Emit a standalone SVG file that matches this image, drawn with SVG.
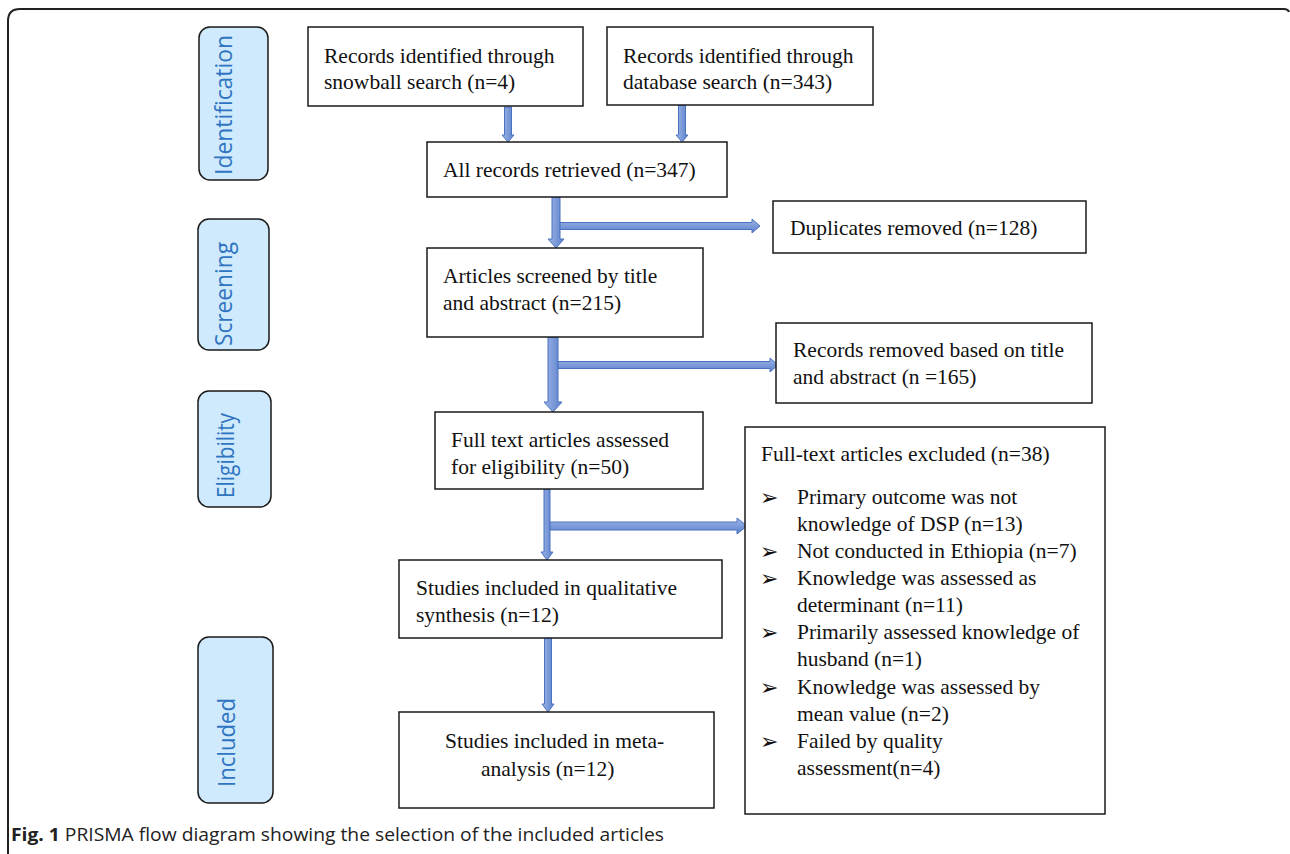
<svg xmlns="http://www.w3.org/2000/svg" width="1290" height="854" viewBox="0 0 1290 854">
<defs>
<linearGradient id="gv" x1="0" y1="0" x2="1" y2="0">
<stop offset="0" stop-color="#9fb6e6"/><stop offset="1" stop-color="#5a80cc"/>
</linearGradient>
<linearGradient id="gh" x1="0" y1="0" x2="0" y2="1">
<stop offset="0" stop-color="#9fb6e6"/><stop offset="1" stop-color="#5a80cc"/>
</linearGradient>
</defs>
<style>
.box{fill:#fff;stroke:#1a1a1a;stroke-width:1.5}
.phase{fill:#cfeafc;stroke:#1a1a1a;stroke-width:1.5}
.pt{font-family:"Open Sans","Noto Sans",sans-serif;font-size:23px;fill:#2f74c0}
.t{font-family:"Liberation Serif","Times New Roman",serif;font-size:21.5px;fill:#111}
.b{font-family:"DejaVu Sans",sans-serif;font-size:22px;fill:#111}
.av{fill:url(#gv);stroke:#4a72c0;stroke-width:1}
.ah{fill:url(#gh);stroke:#4a72c0;stroke-width:1}
.cap{font-family:"Open Sans","Noto Sans",sans-serif;font-size:18.5px;fill:#222}
</style>
<rect width="1290" height="854" fill="#fff"/>
<path d="M8,854 L8,21 Q8,9 20,9 L1284,9 Q1288,9 1289,12" fill="none" stroke="#222" stroke-width="2"/>

<g id="phase-identification"><rect class="phase" x="199" y="27" width="69" height="153" rx="11"/><text class="pt" transform="translate(232,175) rotate(-90)" textLength="140" lengthAdjust="spacingAndGlyphs">Identification</text></g>
<g id="phase-screening"><rect class="phase" x="198" y="219" width="71" height="131" rx="11"/><text class="pt" transform="translate(232,346) rotate(-90)" textLength="104" lengthAdjust="spacingAndGlyphs">Screening</text></g>
<g id="phase-eligibility"><rect class="phase" x="198" y="391" width="73" height="116" rx="11"/><text class="pt" transform="translate(234,498) rotate(-90)" textLength="85" lengthAdjust="spacingAndGlyphs">Eligibility</text></g>
<g id="phase-included"><rect class="phase" x="198" y="637" width="75" height="166" rx="11"/><text class="pt" transform="translate(235,787) rotate(-90)" textLength="89" lengthAdjust="spacingAndGlyphs">Included</text></g>

<g id="connectors">
<polygon class="av" points="504.5,107 511.5,107 511.5,135 514,135 508,142 502,135 504.5,135"/>
<polygon class="av" points="678.5,105 685.5,105 685.5,135 688,135 682,142 676,135 678.5,135"/>
<polygon class="av" points="552,197 560,197 560,239 564,239 556,248 548,239 552,239"/>
<polygon class="ah" points="560,222.5 752,222.5 752,219 760,226 752,233 752,229.5 560,229.5"/>
<polygon class="av" points="548,337 558,337 558,402 562,402 553,412 544,402 548,402"/>
<polygon class="ah" points="558,361.5 770,361.5 770,358 778,365 770,372 770,368.5 558,368.5"/>
<polygon class="av" points="544,489 550,489 550,552 553,552 547,560 541,552 544,552"/>
<polygon class="ah" points="550,522 737,522 737,518 747,526 737,534 737,530 550,530"/>
<polygon class="av" points="544.5,638 551.5,638 551.5,704 554,704 548,712 542,704 544.5,704"/>
</g>

<g id="n-snowball"><rect class="box" x="308" y="27" width="275" height="79"/><text class="t" x="324" y="63">Records identified through</text><text class="t" x="324" y="89">snowball search (n=4)</text></g>
<g id="n-database"><rect class="box" x="607" y="27" width="266" height="78"/><text class="t" x="623" y="63">Records identified through</text><text class="t" x="623" y="89">database search (n=343)</text></g>
<g id="n-all"><rect class="box" x="427" y="142" width="300" height="55"/><text class="t" x="443" y="177">All records retrieved (n=347)</text></g>
<g id="n-duplicates"><rect class="box" x="773" y="201" width="313" height="52"/><text class="t" x="790" y="235">Duplicates removed (n=128)</text></g>
<g id="n-screened"><rect class="box" x="427" y="248" width="276" height="89"/><text class="t" x="443" y="283">Articles screened by title</text><text class="t" x="443" y="310">and abstract (n=215)</text></g>
<g id="n-removed"><rect class="box" x="776" y="323" width="316" height="80"/><text class="t" x="793" y="357">Records removed based on title</text><text class="t" x="793" y="384">and abstract (n =165)</text></g>
<g id="n-fulltext"><rect class="box" x="435" y="412" width="268" height="77"/><text class="t" x="451" y="447">Full text articles assessed</text><text class="t" x="451" y="474">for eligibility (n=50)</text></g>
<g id="n-excluded"><rect class="box" x="745" y="427" width="360" height="387"/>
<text class="t" x="761" y="461">Full-text articles excluded (n=38)</text>
<text class="b" x="760" y="505">➢</text><text class="t" x="797" y="504">Primary outcome was not</text>
<text class="t" x="797" y="531">knowledge of DSP (n=13)</text>
<text class="b" x="760" y="559">➢</text><text class="t" x="797" y="558">Not conducted in Ethiopia (n=7)</text>
<text class="b" x="760" y="586">➢</text><text class="t" x="797" y="585">Knowledge was assessed as</text>
<text class="t" x="797" y="612">determinant (n=11)</text>
<text class="b" x="760" y="640">➢</text><text class="t" x="797" y="639">Primarily assessed knowledge of</text>
<text class="t" x="797" y="666">husband (n=1)</text>
<text class="b" x="760" y="695">➢</text><text class="t" x="797" y="694">Knowledge was assessed by</text>
<text class="t" x="797" y="721">mean value (n=2)</text>
<text class="b" x="760" y="749">➢</text><text class="t" x="797" y="748">Failed by quality</text>
<text class="t" x="797" y="775">assessment(n=4)</text>
</g>
<g id="n-qualitative"><rect class="box" x="399" y="560" width="323" height="78"/><text class="t" x="416" y="595">Studies included in qualitative</text><text class="t" x="416" y="622">synthesis (n=12)</text></g>
<g id="n-meta"><rect class="box" x="399" y="712" width="315" height="96"/><text class="t" x="445" y="748">Studies included in meta-</text><text class="t" x="481" y="776">analysis (n=12)</text></g>

<text class="cap" x="11" y="841" textLength="653" lengthAdjust="spacingAndGlyphs"><tspan font-weight="bold">Fig. 1</tspan> PRISMA flow diagram showing the selection of the included articles</text>
</svg>
